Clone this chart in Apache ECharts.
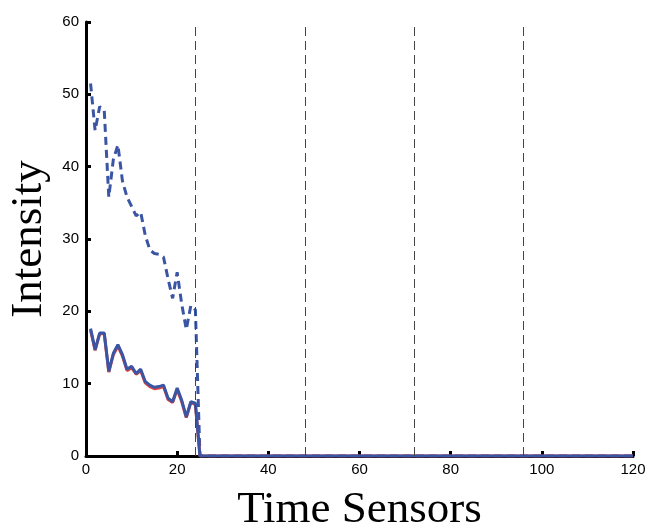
<!DOCTYPE html>
<html>
<head>
<meta charset="utf-8">
<script src="https://cdn.jsdelivr.net/npm/echarts@6/dist/echarts.min.js"></script>
<style>html,body{margin:0;padding:0;background:#fff}#c{width:649px;height:524px}</style>
</head>
<body>
<div id="c"></div>
<script>
// time sensor index
var timeSteps = [1,2,3,4,5,6,7,8,9,10,11,12,13,14,15,16,17,18,19,20,21,22,23,24,25,120];
// dashed blue series
var dashedValues = [51.5,45,48.3,47.8,35.8,41,43,38,35.8,34.5,33.2,33.7,30.5,28.5,28,27.9,27.5,24.5,21.8,25.4,21,17.5,20.8,20.2,0,0];
// solid red series (beneath)
var redValues = [17.4,14.6,16.9,16.9,11.6,14.0,15.2,13.8,11.8,12.2,11.3,11.8,10.1,9.6,9.3,9.4,9.6,7.8,7.4,9.2,7.5,5.3,7.4,7.1,0,0];
// solid blue series
var blueValues = [17.6,14.7,17.0,17.0,11.7,14.2,15.4,14.0,12.0,12.4,11.4,12.0,10.3,9.8,9.5,9.6,9.8,8.0,7.5,9.4,7.7,5.4,7.5,7.3,0,0];
// vertical dashed reference lines
var markers = [24,48,72,96];
var xTicks = {min:0,max:120,interval:20};
var yTicks = {min:0,max:60,interval:10};

function pairs(v){ return timeSteps.map(function(t,i){return [t,v[i]];}); }

var chart = echarts.init(document.getElementById('c'), null, {renderer:'canvas'});
var blue = '#3a55a4';
chart.setOption({
  animation:false,
  backgroundColor:'#fff',
  grid:{left:86,right:16,top:22,bottom:68,containLabel:false,outerBoundsMode:'none'},
  xAxis:{
    type:'value', min:xTicks.min, max:xTicks.max, interval:xTicks.interval,
    name:'Time Sensors', nameLocation:'middle', nameGap:32,
    nameTextStyle:{fontFamily:'Liberation Serif',fontSize:45,color:'#000'},
    axisLine:{show:true,onZero:false,lineStyle:{color:'#000',width:3}},
    axisTick:{show:true,inside:true,length:5,lineStyle:{color:'#000',width:3}},
    axisLabel:{color:'#000',fontFamily:'Liberation Sans',fontSize:15,margin:6},
    splitLine:{show:false}
  },
  yAxis:{
    type:'value', min:yTicks.min, max:yTicks.max, interval:yTicks.interval,
    name:'Intensity', nameLocation:'middle', nameGap:32,
    nameTextStyle:{fontFamily:'Liberation Serif',fontSize:45,color:'#000'},
    axisLine:{show:true,onZero:false,lineStyle:{color:'#000',width:3}},
    axisTick:{show:true,inside:true,length:5,lineStyle:{color:'#000',width:3}},
    axisLabel:{color:'#000',fontFamily:'Liberation Sans',fontSize:15,margin:7},
    splitLine:{show:false}
  },
  series:[
    {type:'line',data:pairs(dashedValues),symbol:'none',z:3,
     lineStyle:{color:blue,width:3,type:[8,5]},
     markLine:{silent:true,symbol:['none','none'],label:{show:false},
       lineStyle:{color:'#444',width:1,type:[9,5]},
       data:markers.map(function(m){return {xAxis:m};})}},
    {type:'line',data:pairs(redValues),symbol:'none',z:3,
     lineStyle:{color:'#e0443c',width:3}},
    {type:'line',data:pairs(blueValues),symbol:'none',z:4,
     lineStyle:{color:blue,width:3}}
  ]
});
</script>
</body>
</html>
